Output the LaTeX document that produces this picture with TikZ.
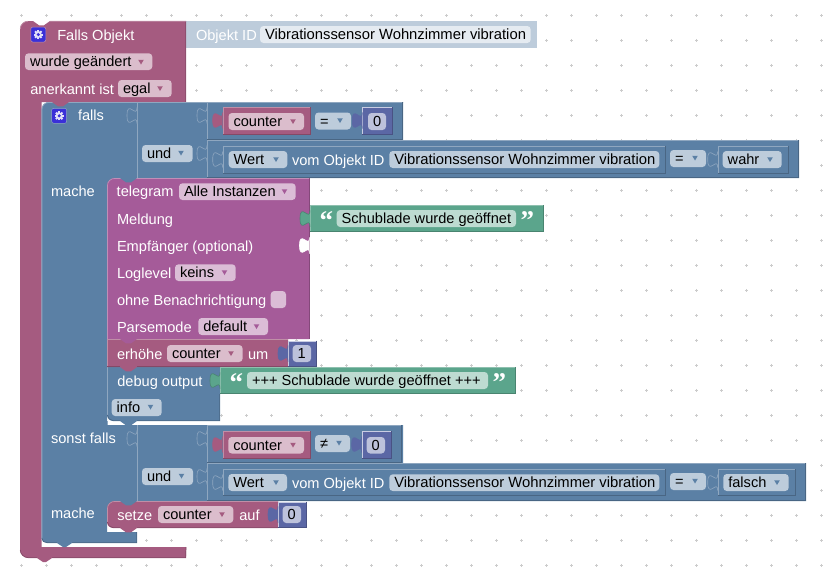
\documentclass[tikz,border=0pt]{standalone}
\usepackage{fontspec}
\setmainfont{Liberation Sans}
\newfontfamily\qfont{Liberation Serif}
\definecolor{rb}{HTML}{A55B80}\definecolor{rl}{HTML}{C08FA7}\definecolor{rd}{HTML}{844966}\definecolor{rf}{HTML}{DBBDCC}
\definecolor{bb}{HTML}{5B80A5}\definecolor{bl}{HTML}{8FA7C0}\definecolor{bd}{HTML}{496684}\definecolor{bf}{HTML}{BDCCDB}
\definecolor{pb}{HTML}{A55B99}\definecolor{pl}{HTML}{C08FB7}\definecolor{pd}{HTML}{84497A}\definecolor{pf}{HTML}{DBBDD6}
\definecolor{gb}{HTML}{5BA58C}\definecolor{gl}{HTML}{8FC0AF}\definecolor{gd}{HTML}{498470}\definecolor{gf}{HTML}{BDDBD1}
\definecolor{nb}{HTML}{5B67A5}\definecolor{nl}{HTML}{C9CDE3}\definecolor{nd}{HTML}{495284}\definecolor{nf}{HTML}{BDC2DB}
\definecolor{sb}{HTML}{BDCCDB}\definecolor{sf}{HTML}{E5EBF1}\definecolor{gearc}{HTML}{3A30D8}
\newcounter{nid}
\tikzset{
  lbl/.style={anchor=base west,inner sep=0pt,outer sep=0pt,font=\fontsize{14.6}{16}\selectfont,text=#1},
  lbl/.default=white,
  bev/.style={line width=.7pt}
}
\newcommand{\txt}[4][white]{\stepcounter{nid}\node[lbl=#1] (t\arabic{nid}) at (#2,#3+.7) {#4};}
\newcommand{\vib}{\fontsize{14.8}{16}\selectfont Vibrationssensor Wohnzimmer vibration}
\newcommand{\qo}{\fontsize{27}{27}\selectfont\qfont\bfseries “}
\newcommand{\qc}{\fontsize{27}{27}\selectfont\qfont\bfseries ”}
% x1 y1 x2 y2 colour text : field
\newcommand{\fld}[6]{\fill[#5] (#1,#2) [rounded corners=3.5pt] rectangle (#3,#4);
  \txt[black]{#1+5}{#4-4}{#6}}
\newcommand{\arr}[3]{\fill[#3] (#1-2.8,#2-2.2) -- (#1+2.8,#2-2.2) -- (#1,#2+2.5) -- cycle;}
% x1 y1 x2 y2 base light dark : rectangular block with bevel
\newcommand{\blk}[7]{\fill[#5] (#1,#2) rectangle (#3,#4);
  \draw[bev,#6] (#1+.4,#4) -- (#1+.4,#2+.4) -- (#3,#2+.4);
  \draw[bev,#7] (#3-.4,#2) -- (#3-.4,#4-.4) -- (#1,#4-.4);}
% x top fill line : puzzle tab
\newcommand{\tabat}[4]{\begin{scope}[shift={(#1,#2)}]
  \filldraw[fill=#3,draw=#4,line width=.6pt] (0,-.5) .. controls (0,11) and (-10,-9) .. (-10,7.5)
    .. controls (-10,24) and (0,4) .. (0,15.5);\end{scope}}
% x y colour : small notch tab pointing down, left x
\newcommand{\ntab}[3]{\fill[#3] (#1,#2) -- (#1+6,#2+4.3) -- (#1+11,#2+4.3) -- (#1+17,#2) -- cycle;}
\newcommand{\gear}[3]{\begin{scope}[shift={(#1,#2)}]
  \fill[gearc,draw=#3,line width=.5pt] (-7.5,-7.5) [rounded corners=2pt] rectangle (7.5,7.5);
  \fill[white!85!gearc] (0,0) circle (3.4);
  \foreach \a in {0,45,...,315}{\fill[white!85!gearc,rotate=\a] (-1,-4.6) rectangle (1,0);}
  \fill[gearc] (0,0) circle (1.7);\end{scope}}
\begin{document}
\begin{tikzpicture}[x=1pt,y=-1pt]
\useasboundingbox (0,0) rectangle (829,574);
\fill[white] (0,0) rectangle (829,574);
% grid
\foreach \i in {0,...,32}\foreach \j in {0,...,22}{
  \draw[black!20,line width=.5pt] (21.5+25*\i-1.5,15.3+25*\j) -- +(3,0) (21.5+25*\i,15.3+25*\j-1.5) -- +(0,3);}
% Objekt ID
\fill[sb] (186,21.3) rectangle (536.5,47.7);
\tabat{186}{27}{sb}{sb}
% red C block
\fill[rb] (20,29) .. controls (20,24.5) and (24,21) .. (28,21) -- (33,21) -- (39,25.3) -- (44,25.3) -- (50,21) -- (186,21) -- (186,102) -- (41.5,102) -- (41.5,547) -- (186,547) -- (186,558) -- (52,558) -- (46,562) -- (43,562) -- (37,558) -- (28,558) .. controls (24,558) and (20,554) .. (20,550) -- cycle;
\draw[bev,rd] (185.6,21) -- (185.6,102) (186,547) -- (185.6,557.6) -- (52,557.6) (37,557.6) -- (28,557.6) .. controls (24,557.6) and (20.3,554) .. (20.3,550);
\draw[bev,rl] (20.3,29) .. controls (20.3,24.5) and (24,21.3) .. (28,21.3) (50,21.3) -- (186,21.3);
% blue if block
\fill[bb] (41.5,110) .. controls (41.5,105) and (45,102) .. (49.5,102) -- (403,102) -- (403,140) -- (799,140) -- (799,178) -- (107,178) -- (107,425) -- (403,425) -- (403,463) -- (806,463) -- (806,501) -- (107,501) -- (107,532) -- (137,532) -- (137,543) -- (72,543) -- (66,547) -- (63,547) -- (57,543) -- (47,543) .. controls (44,543) and (41.5,541) .. (41.5,538) -- cycle;
\draw[bev,bl] (41.9,540) -- (41.9,110) .. controls (41.9,105) and (45,102.4) .. (49.5,102.4) -- (403,102.4);
\draw[bev,bd] (136.6,532) -- (136.6,542.6) -- (72,542.6) (57,542.6) -- (47,542.6) .. controls (44,542.6) and (41.9,541) .. (41.9,538);
\ntab{52}{102}{rb}
\fill[bb] (107,178) rectangle (116,187);
\draw[bev,bl] (107.4,425) -- (107.4,421);
% seams
\draw[bev,bl] (137,102) -- (137,178) (137,425) -- (137,501);
\blk{207}{102}{403}{140}{bb}{bl}{bd}
\blk{207}{140}{799}{178}{bb}{bl}{bd}
\blk{207}{425}{402}{463}{bb}{bl}{bd}
\blk{207}{463}{806}{501}{bb}{bl}{bd}
\tabat{137}{108}{bb}{bl}\tabat{207}{108}{bb}{bl}\tabat{207}{146}{bb}{bl}
\tabat{137}{431}{bb}{bl}\tabat{207}{431}{bb}{bl}\tabat{207}{469}{bb}{bl}
% debug output
\fill[bb] (107,367) -- (220,367) -- (220,421) -- (137,421) -- (131,425.3) -- (126,425.3) -- (120,421) -- (113,421) .. controls (110,421) and (107,418) .. (107,415) -- cycle;
\draw[bev,bl] (107.4,415) -- (107.4,367);
\draw[bev,bd] (219.6,394) -- (219.6,420.6) -- (137,420.6) (120,420.6) -- (113,420.6) .. controls (110,420.6) and (107.4,418) .. (107.4,415);
% telegram
\fill[pb] (107,186) .. controls (107,181) and (111,178) .. (115,178) -- (309.3,178) -- (309.3,339) -- (107,339) -- cycle;
\draw[bev,pd] (309,178) -- (309,339);
\draw[bev,pl] (107.4,339) -- (107.4,186) .. controls (107.4,181) and (111,178.4) .. (115,178.4) -- (309,178.4);
\ntab{120}{178}{bb}
\tabat{309.5}{238}{white}{white}
% erhoehe
\fill[rb] (107,339) -- (288,339) -- (288,367) -- (137,367) -- (131,371.3) -- (126,371.3) -- (120,367) -- (107,367) -- cycle;
\draw[bev,rl] (107.4,367) -- (107.4,339.4) -- (288,339.4);
\draw[bev,rd] (107,366.6) -- (120,366.6) (137,366.6) -- (288,366.6);
\ntab{120}{339}{pb}
\blk{288}{340.5}{317}{367}{nb}{nl}{nd}
\tabat{288}{346}{nb}{nb}
% setze
\fill[bb] (107,501) rectangle (116,510);
\fill[rb] (107,509) .. controls (107,504) and (111,501) .. (115,501) -- (278,501) -- (278,528) -- (137,528) -- (131,532.3) -- (126,532.3) -- (120,528) -- (113,528) .. controls (110,528) and (107,525) .. (107,522) -- cycle;
\draw[bev,rl] (107.4,522) -- (107.4,509) .. controls (107.4,504) and (111,501.4) .. (115,501.4) -- (278,501.4);
\draw[bev,rd] (278,527.6) -- (137,527.6) (120,527.6) -- (113,527.6) .. controls (110,527.6) and (107.4,525) .. (107.4,522);
\ntab{120}{501}{bb}
\blk{278}{501.5}{307}{528}{nb}{nl}{nd}
\tabat{278}{507}{nb}{nb}
% strings
\blk{310}{205}{543.5}{232}{gb}{gl}{gd}
\tabat{310}{211}{gb}{gd}
\blk{220}{367}{516}{394}{gb}{gl}{gd}
\tabat{220}{373}{gb}{gd}
% first condition
\blk{222.7}{107.3}{310.7}{135}{rb}{rl}{rd}\tabat{222.7}{113}{rb}{rb}
\blk{362.3}{107.3}{392.3}{135}{nb}{nl}{nd}\tabat{362.3}{113}{nb}{nb}
\blk{222.7}{145.7}{665.7}{173.3}{bb}{bl}{bd}\tabat{222.7}{152}{bb}{bl}
\blk{717.7}{145.7}{788.3}{173.3}{bb}{bl}{bd}\tabat{717.7}{152}{bb}{bl}
% second condition
\blk{222.7}{431}{310.7}{458.3}{rb}{rl}{rd}\tabat{222.7}{437}{rb}{rb}
\blk{361.7}{431}{392}{458.3}{nb}{nl}{nd}\tabat{361.7}{437}{nb}{nb}
\blk{222.7}{469}{665.7}{496}{bb}{bl}{bd}\tabat{222.7}{475}{bb}{bl}
\blk{717.7}{469}{795.7}{496}{bb}{bl}{bd}\tabat{717.7}{475}{bb}{bl}
% icons
\gear{38.3}{34.5}{rl}
\gear{59.2}{115.8}{bl}
% labels and fields: header
\txt{57.3}{39.5}{Falls Objekt}
\txt[white]{196}{39.5}{Objekt ID}
\fld{260}{26}{530.7}{43}{sf}{\vib}
\fld{25}{53.3}{152.3}{70}{rf}{wurde geändert}\arr{141}{62}{rb}
\txt{30.3}{93.5}{anerkannt ist}
\fld{118}{80}{171.7}{97}{rf}{egal}\arr{160}{88.5}{rb}
% falls row
\txt{78}{120}{falls}
\fld{228.5}{113}{304}{130}{rf}{counter}\arr{293}{121.5}{rb}
\fld{315}{112.5}{351}{129.5}{bf}{=}\arr{340}{120.5}{bb}
\fld{368}{113}{386}{130}{nf}{0}
\fld{142}{145}{192.7}{162}{bf}{und}\arr{181}{153}{bb}
\fld{228.7}{151}{287.3}{168}{bf}{Wert}\arr{276}{159.5}{bb}
\txt{292}{164.5}{vom Objekt ID}
\fld{389.3}{151}{659.3}{168}{bf}{\vib}
\fld{670}{150}{706}{167}{bf}{=}\arr{695}{158}{bb}
\fld{722.7}{151}{781.7}{168}{bf}{wahr}\arr{770}{159.5}{bb}
% mache
\txt{51}{195.5}{mache}
\txt{116.7}{196}{telegram}
\fld{179}{183.3}{295.7}{200}{pf}{Alle Instanzen}\arr{284.5}{191.5}{pb}
\txt{117}{224}{Meldung}
\txt{117}{251}{Empfänger (optional)}
\txt{117}{278}{Loglevel}
\fld{175}{264.3}{235.7}{281}{pf}{keins}\arr{224.5}{272.5}{pb}
\txt{117}{305}{ohne Benachrichtigung}
\fill[pf] (270.7,291) [rounded corners=3.5pt] rectangle (286,308);
\txt{117}{332}{Parsemode}
\fld{198.3}{318}{268}{335}{pf}{default}\arr{256.5}{326.5}{pb}
\txt{117}{359}{erhöhe}
\fld{167}{345}{242.6}{362}{rf}{counter}\arr{231}{353.5}{rb}
\txt{248}{359}{um}
\fld{292.7}{345}{311}{362}{nf}{1}
\txt[white]{319.5}{228.5}{\qo}
\fld{336.7}{210}{516}{227}{gf}{Schublade wurde geöffnet}
\txt[white]{520.5}{228.5}{\qc}
\txt{117.3}{386}{debug output}
\txt[white]{229.5}{390.5}{\qo}
\fld{247}{372}{488}{389}{gf}{+++ Schublade wurde geöffnet +++}
\txt[white]{492.5}{390.5}{\qc}
\fld{111.7}{399}{161.7}{416}{bf}{info}\arr{150.5}{407}{bb}
% sonst falls
\txt{51}{443}{sonst falls}
\fld{228.3}{437}{304}{453.5}{rf}{counter}\arr{293}{445}{rb}
\fld{315}{435}{350}{452}{bf}{≠}\arr{339}{443}{bb}
\fld{366.7}{437}{385}{453.5}{nf}{0}
\fld{142}{468}{193}{485}{bf}{und}\arr{181.5}{476}{bb}
\fld{228.3}{474}{287}{491}{bf}{Wert}\arr{276}{482.5}{bb}
\txt{292}{487.5}{vom Objekt ID}
\fld{389.3}{474.3}{659.3}{491}{bf}{\vib}
\fld{670}{473}{706}{490}{bf}{=}\arr{695}{481}{bb}
\fld{723.3}{474}{788.7}{491}{bf}{falsch}\arr{777}{482.5}{bb}
\txt{51}{518}{mache}
\txt{117.3}{520}{setze}
\fld{158}{506}{233.3}{523}{rf}{counter}\arr{222}{514.5}{rb}
\txt{239.3}{520}{auf}
\fld{282.7}{506}{301}{523}{nf}{0}
\end{tikzpicture}
\end{document}
